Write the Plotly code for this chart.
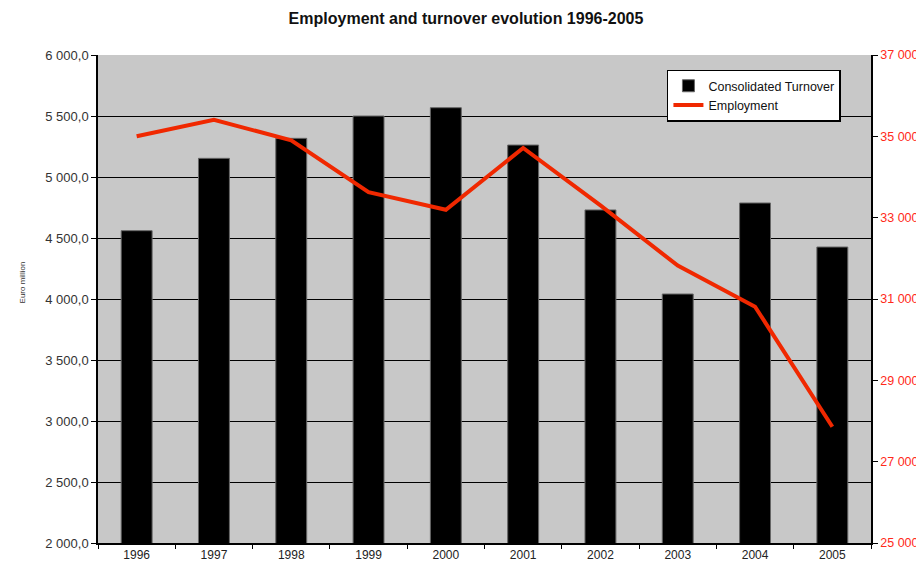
import plotly.graph_objects as go

years = ["1996", "1997", "1998", "1999", "2000", "2001", "2002", "2003", "2004", "2005"]
turnover = [4560, 5153, 5317, 5500, 5568, 5262, 4730, 4041, 4787, 4426]
employment = [35000, 35405, 34904, 33629, 33195, 34714, 33300, 31821, 30810, 27859]

left_ticks = [2000, 2500, 3000, 3500, 4000, 4500, 5000, 5500, 6000]
right_ticks = [25000, 27000, 29000, 31000, 33000, 35000, 37000]

fig = go.Figure()
fig.add_trace(go.Bar(
    x=years, y=turnover, name="Consolidated Turnover",
    marker=dict(color="black", line=dict(color="#666666", width=1)),
))
fig.add_trace(go.Scatter(
    x=years, y=employment, name="Employment", yaxis="y2", mode="lines",
    line=dict(color="#f02800", width=4),
))

# page body has an 8px default margin, so the figure is shrunk by 8px and margins shifted
font = "Liberation Sans, Arial, sans-serif"
fig.update_layout(
    width=916, height=557,
    margin=dict(l=90, r=53, t=47, b=22, autoexpand=False),
    paper_bgcolor="white", plot_bgcolor="#c8c8c8",
    separators=", ",
    bargap=0.6,
    showlegend=True,
    font=dict(family=font, size=11, color="#222222"),
    title=dict(text="<b>Employment and turnover evolution 1996-2005</b>",
               x=0.50, xanchor="center", y=0.982, yanchor="middle",
               font=dict(size=16, color="#111111", family=font)),
    xaxis=dict(type="category", showline=True, linecolor="black", linewidth=1.5,
               ticks="outside", tickson="boundaries", ticklen=4, tickcolor="black",
               showgrid=False, tickfont=dict(size=12, color="#222222"), automargin=False),
    yaxis=dict(range=[2000, 6000], tickvals=left_ticks, tickformat=",.1f",
               showline=True, linecolor="black", linewidth=1.5,
               ticks="outside", ticklen=5, tickcolor="black",
               showgrid=True, gridcolor="black", gridwidth=1, zeroline=False,
               tickfont=dict(size=13, color="#333333"), automargin=False),
    yaxis2=dict(range=[25000, 37000], tickvals=right_ticks, tickformat=",d",
                overlaying="y", side="right", showline=True, linecolor="black", linewidth=1.5,
                ticks="outside", ticklen=5, tickcolor="black", showgrid=False, zeroline=False,
                tickfont=dict(size=12.5, color="#ff2a1a"), automargin=False),
    legend=dict(x=0.736, y=0.97, xanchor="left", yanchor="top",
                bgcolor="white", bordercolor="black", borderwidth=1.5,
                font=dict(size=12.5, color="#111111"), tracegroupgap=0,
                itemwidth=30),
    annotations=[dict(text="Euro million", textangle=-90, x=-0.106, y=0.533,
                      xref="paper", yref="paper", showarrow=False,
                      font=dict(size=8, color="#333333"))],
)

fig.write_html("out.html")
